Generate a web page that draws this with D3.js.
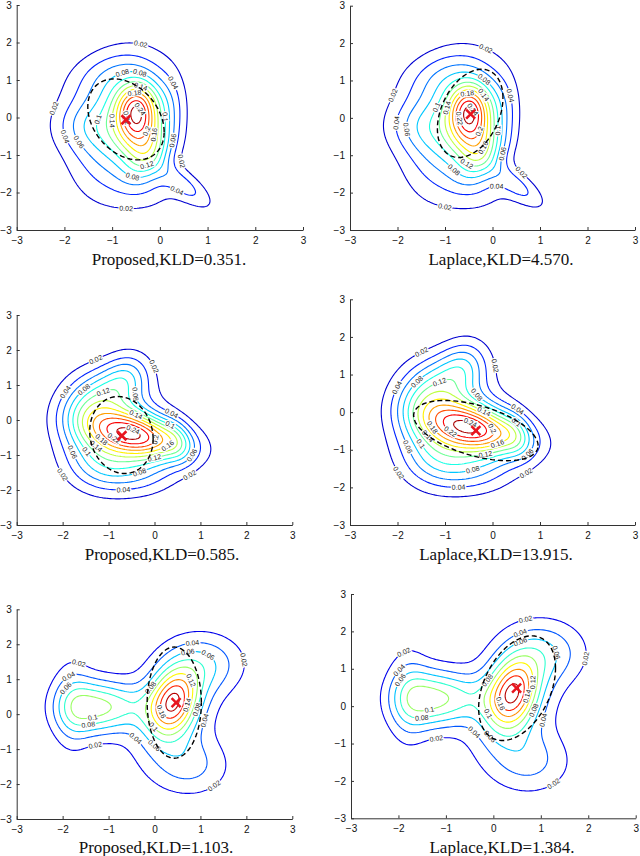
<!DOCTYPE html>
<html><head><meta charset="utf-8">
<script src="https://cdn.jsdelivr.net/npm/d3@7"></script>
<style>body{margin:0;background:#fff}</style></head>
<body>
<svg id="chart" width="640" height="856"></svg>
<script>
// ---------------- DATA ----------------
const axisTicks = [-3, -2, -1, 0, 1, 2, 3];
const levelsRow12 = [0.02,0.04,0.06,0.08,0.1,0.12,0.14,0.16,0.18,0.2,0.22,0.24];
const levelsRow3  = [0.02,0.04,0.06,0.08,0.1,0.12,0.14,0.16,0.18];
const peakValues  = [0.25, 0.25, 0.19];

// true posterior of each row: bumps (height, centre, angle, spreads)
const row1Amp = [0.115, 0.105, 0.07, 0.04, 0.085, 0.035, 0.035, 0.03, 0.02];
const row1X   = [-0.5, -0.4, -0.2, 0.55, -0.85, -1.6, -1.0, 0.2, -0.2];
const row1Y   = [0.35, -0.3, -1.0, -1.85, -0.3, -0.2, 1.1, 0.3, -1.9];
const row1Ang = [80, 80, 65, -47, 80, 0, 20, 90, 0];
const row1SdL = [0.45, 0.5, 0.5, 0.55, 1.15, 0.5, 0.7, 0.6, 0.5];
const row1SdS = [0.3, 0.32, 0.3, 0.22, 0.62, 0.5, 0.5, 0.25, 0.5];

const row2Amp = [0.14, 0.07, 0.03, 0.03, 0.025, 0.03, 0.035, 0.025];
const row2X   = [-0.3, -0.95, -0.6, -1.5, 0.5, -0.3, -1.0, -1.2];
const row2Y   = [-0.45, -0.25, 1.25, 0.1, -0.6, -1.5, 0.9, -1.3];
const row2Ang = [-20, 90, 80, 90, -80, 0, 45, 0];
const row2SdL = [0.75, 0.95, 0.5, 0.7, 0.45, 0.6, 0.6, 0.5];
const row2SdS = [0.42, 0.68, 0.33, 0.42, 0.22, 0.45, 0.42, 0.5];

const row3Amp = [0.12, 0.06, 0.097, 0.035, 0.05, 0.04, 0.02];
const row3X   = [0.4, 0.35, -1.3, -1.8, 1.1, 0.8, -0.55];
const row3Y   = [0.35, 0.1, 0.2, 0.25, 1.45, -1.5, 0.25];
const row3Ang = [80, 80, 0, 90, 40, -60, 0];
const row3SdL = [0.65, 1.0, 0.55, 0.95, 0.6, 0.6, 0.4];
const row3SdS = [0.35, 0.6, 0.55, 0.3, 0.6, 0.6, 0.4];

// approximations: dashed ellipses and red crosses
const captions = ["Proposed,KLD=0.351.", "Laplace,KLD=4.570.",
                  "Proposed,KLD=0.585.", "Laplace,KLD=13.915.",
                  "Proposed,KLD=1.103.", "Laplace,KLD=1.384."];
const ellCx = [-0.71, -0.47, -0.72, -0.35, 0.43, 0.5];
const ellCy = [-0.05, 0.12, -0.43, -0.49, 0.33, 0.48];
const ellHx = [0.8, 0.69, 0.69, 1.31, 0.59, 0.81];
const ellHy = [1.08, 1.18, 1.1, 0.8, 1.59, 1.4];
const ellR  = [-0.31, 0.35, -0.1, -0.5, 0.0, 0.38];
const markX = [-0.71, -0.46, -0.71, -0.35, 0.47, 0.49];
const markY = [-0.06, 0.10, -0.45, -0.49, 0.33, 0.48];

// ---------------- LAYOUT ----------------
const panels = [
  {x0:16.7, x1:303, y0:5,     y1:230,   row:0, cap:[169,265]},
  {x0:350,  x1:635, y0:5.7,   y1:230,   row:0, cap:[501,265]},
  {x0:16.7, x1:292.3, y0:315, y1:525,   row:1, cap:[162,560]},
  {x0:350,  x1:635, y0:299.3, y1:525,   row:1, cap:[496,560]},
  {x0:16.7, x1:292.3, y0:609.3, y1:819, row:2, cap:[156,853]},
  {x0:351,  x1:635.7, y0:594, y1:818.3, row:2, cap:[502,853]}
];

const rows = [
  {amp:row1Amp, x:row1X, y:row1Y, ang:row1Ang, sl:row1SdL, ss:row1SdS, levels:levelsRow12, peak:peakValues[0]},
  {amp:row2Amp, x:row2X, y:row2Y, ang:row2Ang, sl:row2SdL, ss:row2SdS, levels:levelsRow12, peak:peakValues[1]},
  {amp:row3Amp, x:row3X, y:row3Y, ang:row3Ang, sl:row3SdL, ss:row3SdS, levels:levelsRow3,  peak:peakValues[2]}
];

function jet(t){
  const c = v => Math.max(0, Math.min(1, v));
  const r = c(1.5 - Math.abs(4*t - 3)), g = c(1.5 - Math.abs(4*t - 2)), b = c(1.5 - Math.abs(4*t - 1));
  return d3.rgb(r*255, g*255, b*255).toString();
}

const N = 151, step = 6/(N-1);
function density(R, x, y){
  let s = 0;
  for (let i=0;i<R.amp.length;i++){
    const dx = x - R.x[i], dy = y - R.y[i], a = R.ang[i]*Math.PI/180;
    const u = dx*Math.cos(a) + dy*Math.sin(a), v = -dx*Math.sin(a) + dy*Math.cos(a);
    s += R.amp[i]*Math.exp(-0.5*(u*u/(R.sl[i]*R.sl[i]) + v*v/(R.ss[i]*R.ss[i])));
  }
  return s;
}
rows.forEach(R => {
  const vals = new Array(N*N);
  for (let j=0;j<N;j++) for (let i=0;i<N;i++) vals[j*N+i] = density(R, -3+i*step, -3+j*step);
  const mx = d3.max(vals), k = R.peak/mx;
  R.grid = vals.map(v => v*k);
  R.contours = d3.contours().size([N,N]).thresholds(R.levels)(R.grid);
});

const svg = d3.select("#chart");
const fmt = v => String(+v.toFixed(2));

panels.forEach((P, pi) => {
  const R = rows[P.row];
  const xs = d3.scaleLinear().domain([-3,3]).range([P.x0, P.x1]);
  const ys = d3.scaleLinear().domain([-3,3]).range([P.y1, P.y0]);
  const g = svg.append("g");

  const ax = g.append("g").attr("transform", `translate(0,${P.y1})`)
    .call(d3.axisBottom(xs).tickValues(axisTicks).tickFormat(d3.format("d")).tickSizeInner(-3).tickSizeOuter(0).tickPadding(7));
  const ay = g.append("g").attr("transform", `translate(${P.x0},0)`)
    .call(d3.axisLeft(ys).tickValues(axisTicks).tickFormat(d3.format("d")).tickSizeInner(-3).tickSizeOuter(0).tickPadding(5));
  [ax, ay].forEach(a => {
    a.selectAll("text").attr("font-family", "Liberation Sans, Arial, sans-serif").attr("font-size", 10).attr("fill", "#111");
    a.selectAll("path,line").attr("stroke", "#333");
  });

  const lo = 0, hi = R.peak;
  const toPx = p => [xs(-3 + (p[0]-0.5)*step), ys(-3 + (p[1]-0.5)*step)];
  const lineGen = d3.line().curve(d3.curveLinearClosed);
  const labels = [];
  R.contours.forEach((c, li) => {
    const col = jet((c.value - lo)/(hi - lo));
    c.coordinates.forEach(poly => poly.forEach(ring => {
      const pts = ring.map(toPx);
      g.append("path").attr("d", lineGen(pts)).attr("fill", "none")
        .attr("stroke", col).attr("stroke-width", 1.1);
      const cum = [0];
      for (let i=1;i<pts.length;i++) cum.push(cum[i-1] + Math.hypot(pts[i][0]-pts[i-1][0], pts[i][1]-pts[i-1][1]));
      const L = cum[cum.length-1];
      if (L < 30) return;
      const spacing = 140;
      let start = (li*47 + pi*13) % spacing;
      if (L < spacing) start = L*((li*0.37) % 1);
      const at = s => {
        s = ((s % L) + L) % L;
        const i = Math.max(1, d3.bisectLeft(cum, s));
        const t = (s - cum[i-1])/((cum[i]-cum[i-1])||1);
        return [pts[i-1][0] + t*(pts[i][0]-pts[i-1][0]), pts[i-1][1] + t*(pts[i][1]-pts[i-1][1])];
      };
      for (let s = start; s < L - 5; s += spacing){
        const p = at(s), a = at(s-5), b = at(s+5);
        let ang = Math.atan2(b[1]-a[1], b[0]-a[0])*180/Math.PI;
        if (ang > 90) ang -= 180; if (ang < -90) ang += 180;
        labels.push({p, ang, text: fmt(c.value)});
      }
    }));
  });
  g.selectAll("text.lab").data(labels).join("text").attr("class","lab")
    .attr("transform", d => `translate(${d.p[0]},${d.p[1]}) rotate(${d.ang})`)
    .attr("text-anchor","middle").attr("dy","0.35em")
    .attr("font-family","Liberation Sans, Arial, sans-serif").attr("font-size",7)
    .attr("fill","#222").attr("stroke","#fff").attr("stroke-width",2.5)
    .attr("paint-order","stroke").text(d => d.text);

  const ell = d3.range(0, 121).map(k => {
    const t = k/120*2*Math.PI;
    const ex = ellCx[pi] + ellHx[pi]*Math.cos(t);
    const ey = ellCy[pi] + ellHy[pi]*(ellR[pi]*Math.cos(t) + Math.sqrt(1-ellR[pi]*ellR[pi])*Math.sin(t));
    return [xs(ex), ys(ey)];
  });
  g.append("path").attr("d", d3.line()(ell)).attr("fill","none")
    .attr("stroke","#000").attr("stroke-width",1.4).attr("stroke-dasharray","5,3");

  const mx = xs(markX[pi]), my = ys(markY[pi]), h = 4.5;
  g.append("path").attr("d", `M${mx-h},${my-h}L${mx+h},${my+h}M${mx-h},${my+h}L${mx+h},${my-h}`)
    .attr("stroke","#e8141e").attr("stroke-width",2.5).attr("fill","none");

  svg.append("text").attr("x", P.cap[0]).attr("y", P.cap[1]).attr("text-anchor","middle")
    .attr("font-family","Liberation Serif, Times New Roman, serif").attr("font-size",17)
    .attr("fill","#111").text(captions[pi]);
});
</script>
</body></html>
